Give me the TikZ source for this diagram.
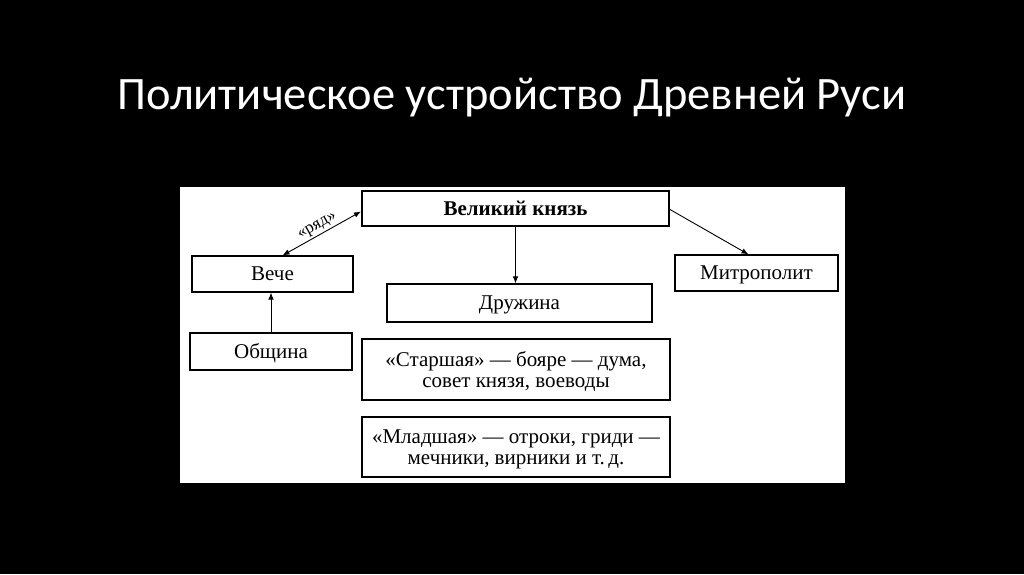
\documentclass[tikz,border=0pt]{standalone}
\usepackage{fontspec}
\setmainfont{Liberation Serif}
\newfontfamily\titlefont{Carlito}
\usetikzlibrary{positioning,arrows.meta}

\begin{document}
\begin{tikzpicture}[x=1pt, y=-1pt, font=\fontsize{21}{21.5}\selectfont,
  box/.style={draw, line width=1.1pt, inner sep=0pt, text height=14pt, text depth=1pt},
  twoline/.style={draw, line width=1.1pt, inner sep=0pt, align=center, text depth=0pt},
  link/.style={line width=0.9pt, -{Latex[length=7pt,width=5.5pt]}}]
  \fill[black] (0,0) rectangle (1024,574);
  \useasboundingbox (0,0) rectangle (1024,574);
  \fill[white] (180,187) rectangle (845,483);
  \node[text=white, font=\titlefont\fontsize{46.5}{50}\selectfont] (title) at (512,98) {Политическое устройство Древней Руси};
  % boxes
  \node[box, line width=2pt, minimum width=307pt, minimum height=35pt, font=\bfseries\fontsize{21}{22}\selectfont] (prince) at (515.5,208.5) {Великий князь};
  \node[box, minimum width=161pt, minimum height=36pt] (veche) at (272.5,274) {Вече};
  \node[box, minimum width=163pt, minimum height=36pt] (metro) at (756.5,273) {Митрополит};
  \node[box, minimum width=265pt, minimum height=38pt] (druzh) at (519.5,303) {Дружина};
  \node[box, minimum width=162pt, minimum height=37pt] (obsh) at (271,351.5) {Община};
  \node[twoline, minimum width=308pt, minimum height=61pt] (senior) at (516,369.5) {«Старшая» — бояре — дума,\\совет князя, воеводы};
  \node[twoline, minimum width=308pt, minimum height=60pt] (junior) at (516,447) {«Младшая» — отроки, гриди —\\мечники, вирники и т.\,д.};
  % links
  \draw[link, {Latex[length=7pt,width=5.5pt]}-{Latex[length=7pt,width=5.5pt]}] ([xshift=10pt]veche.north) -- node[midway, above, sloped, inner sep=2pt, font=\fontsize{17}{18}\selectfont] {«ряд»} ([yshift=-3pt]prince.west);
  \draw[link] (prince.south) -- (prince.south |- druzh.north);
  \draw[link] ([yshift=-1pt]prince.east) -- ([xshift=-8pt]metro.north);
  \draw[link] (obsh.north) -- (obsh.north |- veche.south);
\end{tikzpicture}
\end{document}
